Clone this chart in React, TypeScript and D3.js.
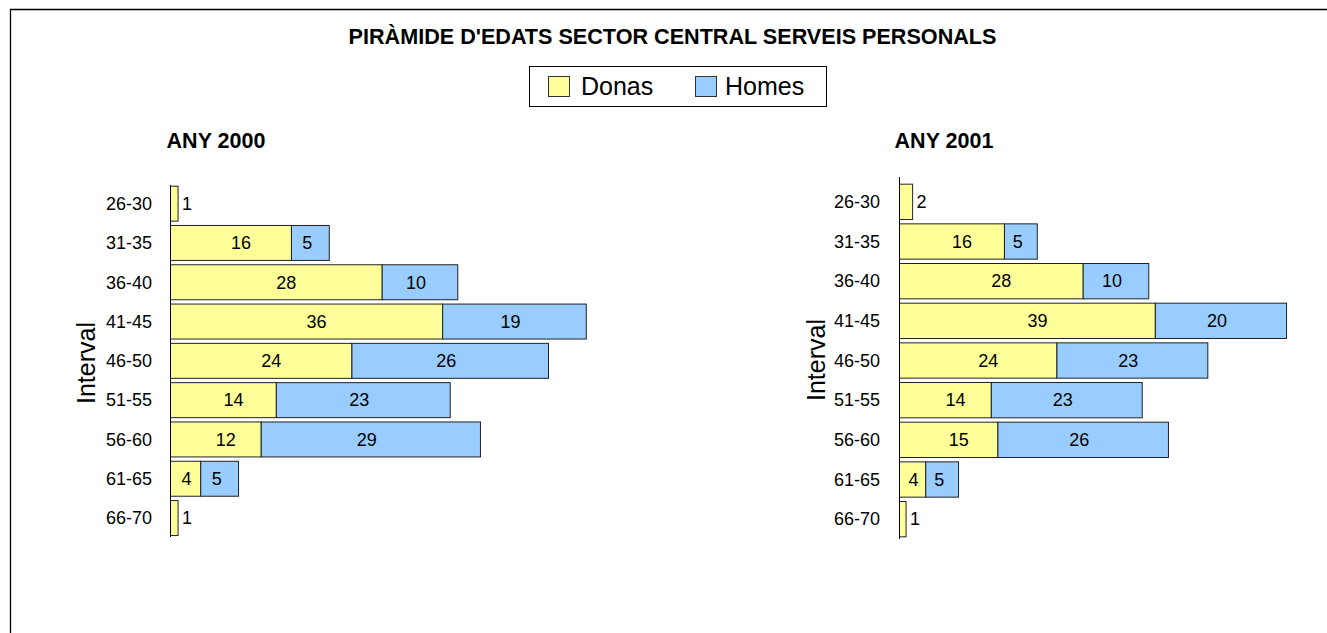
import React from "react";
import * as d3 from "d3";

const categories = ["26-30", "31-35", "36-40", "41-45", "46-50", "51-55", "56-60", "61-65", "66-70"];
const donas2000 = [1, 16, 28, 36, 24, 14, 12, 4, 1];
const homes2000 = [0, 5, 10, 19, 26, 23, 29, 5, 0];
const donas2001 = [2, 16, 28, 39, 24, 14, 15, 4, 1];
const homes2001 = [0, 5, 10, 20, 23, 23, 26, 5, 0];
const seriesNames = ["Donas", "Homes"];
const mainTitle = "PIRÀMIDE D'EDATS SECTOR CENTRAL SERVEIS PERSONALS";

const YELLOW = "#FFFF99";
const BLUE = "#99CCFF";
const FONT = "'Liberation Sans', Arial, sans-serif";

type PanelProps = {
  title: string;
  titleX: number;
  donas: number[];
  homes: number[];
  x0: number;
  pxPerUnit: number;
  yRange: [number, number];
  axisTop: number;
  axisBottom: number;
  labelX: number;
  intervalX: number;
  intervalY: number;
};

function Panel(p: PanelProps) {
  const x = d3.scaleLinear().domain([0, 60]).range([p.x0, p.x0 + 60 * p.pxPerUnit]);
  const y = d3
    .scaleBand<string>()
    .domain(categories)
    .range(p.yRange)
    .paddingInner(0.11)
    .paddingOuter(0.055);
  const bh = y.bandwidth();
  return (
    <g>
      <text x={p.titleX} y={148} textAnchor="middle" fontFamily={FONT} fontWeight="bold" fontSize={21.5}>
        {p.title}
      </text>
      <text
        transform={`translate(${p.intervalX},${p.intervalY}) rotate(-90)`}
        textAnchor="middle"
        fontFamily={FONT}
        fontSize={25}
      >
        Interval
      </text>
      {categories.map((c, i) => {
        const yy = (y(c) as number);
        const d = p.donas[i];
        const h = p.homes[i];
        const xd0 = x(0);
        const xd1 = x(d);
        const xh1 = x(d + h);
        const cy = yy + bh / 2;
        const dw = xd1 - xd0;
        const hw = xh1 - xd1;
        return (
          <g key={c}>
            <text x={p.labelX} y={cy} dy="0.35em" textAnchor="end" fontFamily={FONT} fontSize={18}>
              {c}
            </text>
            {d > 0 && (
              <rect x={xd0} y={yy} width={dw} height={bh} fill={YELLOW} stroke="#222" strokeWidth={1} />
            )}
            {h > 0 && (
              <rect x={xd1} y={yy} width={hw} height={bh} fill={BLUE} stroke="#222" strokeWidth={1} />
            )}
            {d > 0 &&
              (dw > 20 ? (
                <text
                  x={xd0 + dw / 2 + (dw > 50 ? 10 : 1)}
                  y={cy}
                  dy="0.35em"
                  textAnchor="middle"
                  fontFamily={FONT}
                  fontSize={18}
                >
                  {d}
                </text>
              ) : (
                <text x={xd1 + 4} y={cy} dy="0.35em" textAnchor="start" fontFamily={FONT} fontSize={18}>
                  {d}
                </text>
              ))}
            {h > 0 && (
              <text
                x={xd1 + hw / 2 - (hw > 50 ? 4 : 3)}
                y={cy}
                dy="0.35em"
                textAnchor="middle"
                fontFamily={FONT}
                fontSize={18}
              >
                {h}
              </text>
            )}
          </g>
        );
      })}
      <line x1={p.x0} x2={p.x0} y1={p.axisTop} y2={p.axisBottom} stroke="#000" strokeWidth={1} />
    </g>
  );
}

export default function App() {
  return (
    <svg
      width={1327}
      height={633}
      style={{ position: "absolute", left: 0, top: 0, background: "#fff" }}
    >
      <rect x={0} y={0} width={1327} height={633} fill="#fff" />
      <path d="M10.5,640 L10.5,9.5 L1340,9.5" fill="none" stroke="#000" strokeWidth={1.3} />
      <text x={672.5} y={44} textAnchor="middle" fontFamily={FONT} fontWeight="bold" fontSize={21.6}>
        {mainTitle}
      </text>
      <g>
        <rect x={529.5} y={66.5} width={297} height={40} fill="#fff" stroke="#000" strokeWidth={1} />
        <rect x={548.5} y={76.5} width={21} height={20} fill={YELLOW} stroke="#333" strokeWidth={1} />
        <text x={581} y={94.5} fontFamily={FONT} fontSize={25}>
          {seriesNames[0]}
        </text>
        <rect x={695.5} y={76.5} width={21} height={20} fill={BLUE} stroke="#333" strokeWidth={1} />
        <text x={725} y={94.5} fontFamily={FONT} fontSize={25}>
          {seriesNames[1]}
        </text>
      </g>
      <Panel
        title="ANY 2000"
        titleX={216}
        donas={donas2000}
        homes={homes2000}
        x0={170.5}
        pxPerUnit={7.56}
        yRange={[184, 537.7]}
        axisTop={185}
        axisBottom={537}
        labelX={152}
        intervalX={95}
        intervalY={363}
      />
      <Panel
        title="ANY 2001"
        titleX={944}
        donas={donas2001}
        homes={homes2001}
        x0={899.5}
        pxPerUnit={6.56}
        yRange={[182, 539]}
        axisTop={177}
        axisBottom={539}
        labelX={880}
        intervalX={825}
        intervalY={360}
      />
    </svg>
  );
}
